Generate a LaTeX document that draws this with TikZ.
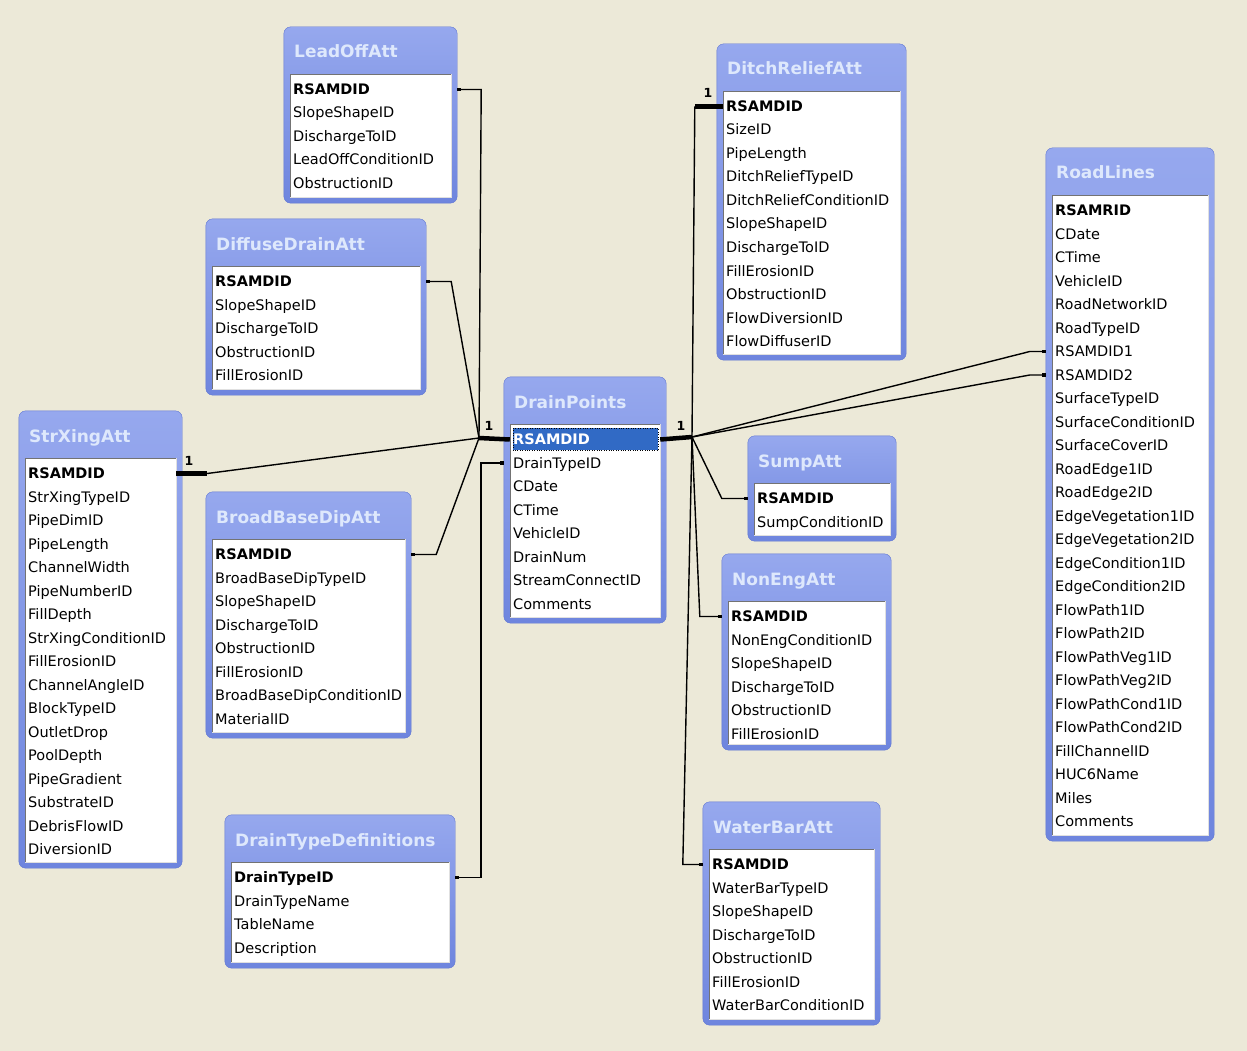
\documentclass[tikz,border=0pt]{standalone}
\usepackage{fontspec}
\setmainfont{DejaVu Sans}
\usetikzlibrary{fit,arrows.meta}
\definecolor{bg}{RGB}{236,233,216}
\definecolor{tbtop}{RGB}{150,168,238}
\definecolor{tbbot}{RGB}{110,133,222}
\definecolor{tbedge}{RGB}{96,118,210}
\definecolor{ttl}{RGB}{222,232,252}
\definecolor{selblue}{RGB}{49,106,197}
\tikzset{
 field/.style={anchor=base west, inner sep=0pt, text height=10pt, text depth=0pt, font=\fontsize{14.5}{16}\selectfont, text=black},
 keyfield/.style={field, font=\fontsize{14.5}{16}\selectfont\bfseries},
 ttlnode/.style={anchor=base west, inner sep=0pt, font=\fontsize{17}{19}\selectfont\bfseries, text=ttl},
 conn/.style={draw=black, line width=1.4pt},
 thickconn/.style={draw=black, line width=4.5pt},
 many/.style={conn, -{Square[length=3.5pt,width=3.5pt]}},
 onelbl/.style={inner sep=0pt, font=\fontsize{12.5}{14}\selectfont\bfseries},
}
\newcommand\dbtable[9][]{%
 \begin{scope}
 \coordinate (#2-nw) at (#3,#4);
 \coordinate (#2-se) at (#5,#6);
 \node[fit=(#2-nw)(#2-se), inner sep=0pt] (#2) {};
 \shade[top color=tbtop, bottom color=tbbot, draw=tbedge, rounded corners=7] (#2.north west) rectangle (#2.south east);
 \fill[white] ({#3+6},{#4+47}) rectangle ({#5-6},{#6-6});
 \draw[black!55] ({#3+6},{#6-6}) -- ({#3+6},{#4+47}) -- ({#5-6},{#4+47});
 \draw[black!12] ({#5-6},{#4+47}) -- ({#5-6},{#6-6}) -- ({#3+6},{#6-6});
 \node[ttlnode] (#2-t) at ({#3+10},{#4+31}) {#7};
 \clip ({#3+7},{#4+48}) rectangle ({#5-7},{#6-7});
 #1
 \node[keyfield] (#2-k) at ({#3+9},{#4+67.5}) {#8};
 \foreach \f [count=\i] in {#9} \node[field] (#2-\i) at ({#3+9},{#4+67.5+23.5*\i}) {\f};
 \end{scope}}
\begin{document}
\begin{tikzpicture}[x=1pt,y=-1pt]
\useasboundingbox (0,0) rectangle (1247,1051);
\fill[bg] (0,0) rectangle (1247,1051);

\dbtable{lo}{284}{27}{457}{203}{LeadOffAtt}{RSAMDID}{SlopeShapeID,DischargeToID,LeadOffConditionID,ObstructionID}
\dbtable{dd}{206}{219}{426}{395}{DiffuseDrainAtt}{RSAMDID}{SlopeShapeID,DischargeToID,ObstructionID,FillErosionID}
\dbtable{sx}{19}{411}{182}{868}{StrXingAtt}{RSAMDID}{StrXingTypeID,PipeDimID,PipeLength,ChannelWidth,PipeNumberID,FillDepth,StrXingConditionID,FillErosionID,ChannelAngleID,BlockTypeID,OutletDrop,PoolDepth,PipeGradient,SubstrateID,DebrisFlowID,DiversionID}
\dbtable{bb}{206}{492}{411}{738}{BroadBaseDipAtt}{RSAMDID}{BroadBaseDipTypeID,SlopeShapeID,DischargeToID,ObstructionID,FillErosionID,BroadBaseDipConditionID,MaterialID}
\dbtable{dtd}{225}{815}{455}{968}{DrainTypeDefinitions}{DrainTypeID}{DrainTypeName,TableName,Description}
\dbtable[{\fill[selblue] (513,428) rectangle (658,450); \draw[black, dotted] (513,428) rectangle (658,450); \tikzset{keyfield/.append style={text=white}}}]{dp}{504}{377}{666}{623}{DrainPoints}{RSAMDID}{DrainTypeID,CDate,CTime,VehicleID,DrainNum,StreamConnectID,Comments}
\dbtable{dr}{717}{44}{906}{360}{DitchReliefAtt}{RSAMDID}{SizeID,PipeLength,DitchReliefTypeID,DitchReliefConditionID,SlopeShapeID,DischargeToID,FillErosionID,ObstructionID,FlowDiversionID,FlowDiffuserID}
\dbtable{rl}{1046}{148}{1214}{841}{RoadLines}{RSAMRID}{CDate,CTime,VehicleID,RoadNetworkID,RoadTypeID,RSAMDID1,RSAMDID2,SurfaceTypeID,SurfaceConditionID,SurfaceCoverID,RoadEdge1ID,RoadEdge2ID,EdgeVegetation1ID,EdgeVegetation2ID,EdgeCondition1ID,EdgeCondition2ID,FlowPath1ID,FlowPath2ID,FlowPathVeg1ID,FlowPathVeg2ID,FlowPathCond1ID,FlowPathCond2ID,FillChannelID,HUC6Name,Miles,Comments}
\dbtable{sa}{748}{436}{896}{541}{SumpAtt}{RSAMDID}{SumpConditionID}
\dbtable{ne}{722}{554}{891}{750}{NonEngAtt}{RSAMDID}{NonEngConditionID,SlopeShapeID,DischargeToID,ObstructionID,FillErosionID}
\dbtable{wb}{703}{802}{880}{1025}{WaterBarAtt}{RSAMDID}{WaterBarTypeID,SlopeShapeID,DischargeToID,ObstructionID,FillErosionID,WaterBarConditionID}

% hubs
\coordinate (hl) at (479,438);
\coordinate (hr) at (692,437);

% left side
\draw[thickconn] (hl) -- ([xshift=6pt]dp.west |- dp-k);
\draw[many] (hl) -- ([xshift=24pt]lo.east |- lo-k) -- (lo.east |- lo-k);
\draw[many] (hl) -- ([xshift=25pt]dd.east |- dd-k) -- (dd.east |- dd-k);
\draw[many] (hl) -- ([xshift=25pt]bb.east |- bb-k) -- (bb.east |- bb-k);
\draw[thickconn] ([xshift=-6pt]sx.east |- sx-k) -- ([xshift=25pt]sx.east |- sx-k);
\draw[conn] ([xshift=25pt]sx.east |- sx-k) -- (hl);
\draw[conn, {Square[length=3.5pt,width=3.5pt]}-{Square[length=3.5pt,width=3.5pt]}] (dtd.east |- dtd-k) -| ([xshift=-23pt]dp.west |- dp-1) -- (dp.west |- dp-1);

% right side
\draw[thickconn] ([xshift=-6pt]dp.east |- dp-k) -- (hr);
\draw[thickconn] ([xshift=6pt]dr.west |- dr-k) -- ([xshift=-22pt]dr.west |- dr-k);
\draw[conn] ([xshift=-22pt]dr.west |- dr-k) -- (hr);
\draw[many] (hr) -- ([xshift=-16pt]rl.west |- rl-6) -- (rl.west |- rl-6);
\draw[many] (hr) -- ([xshift=-16pt]rl.west |- rl-7) -- (rl.west |- rl-7);
\draw[many] (hr) -- ([xshift=-26pt]sa.west |- sa-k) -- (sa.west |- sa-k);
\draw[many] (hr) -- ([xshift=-22pt]ne.west |- ne-k) -- (ne.west |- ne-k);
\draw[many] (hr) -- ([xshift=-20pt]wb.west |- wb-k) -- (wb.west |- wb-k);

% cardinality labels
\node[onelbl] (one-l) at (489,426) {1};
\node[onelbl] (one-r) at (681,426) {1};
\node[onelbl] (one-s) at (189,461) {1};
\node[onelbl] (one-d) at (708,93) {1};
\end{tikzpicture}
\end{document}
